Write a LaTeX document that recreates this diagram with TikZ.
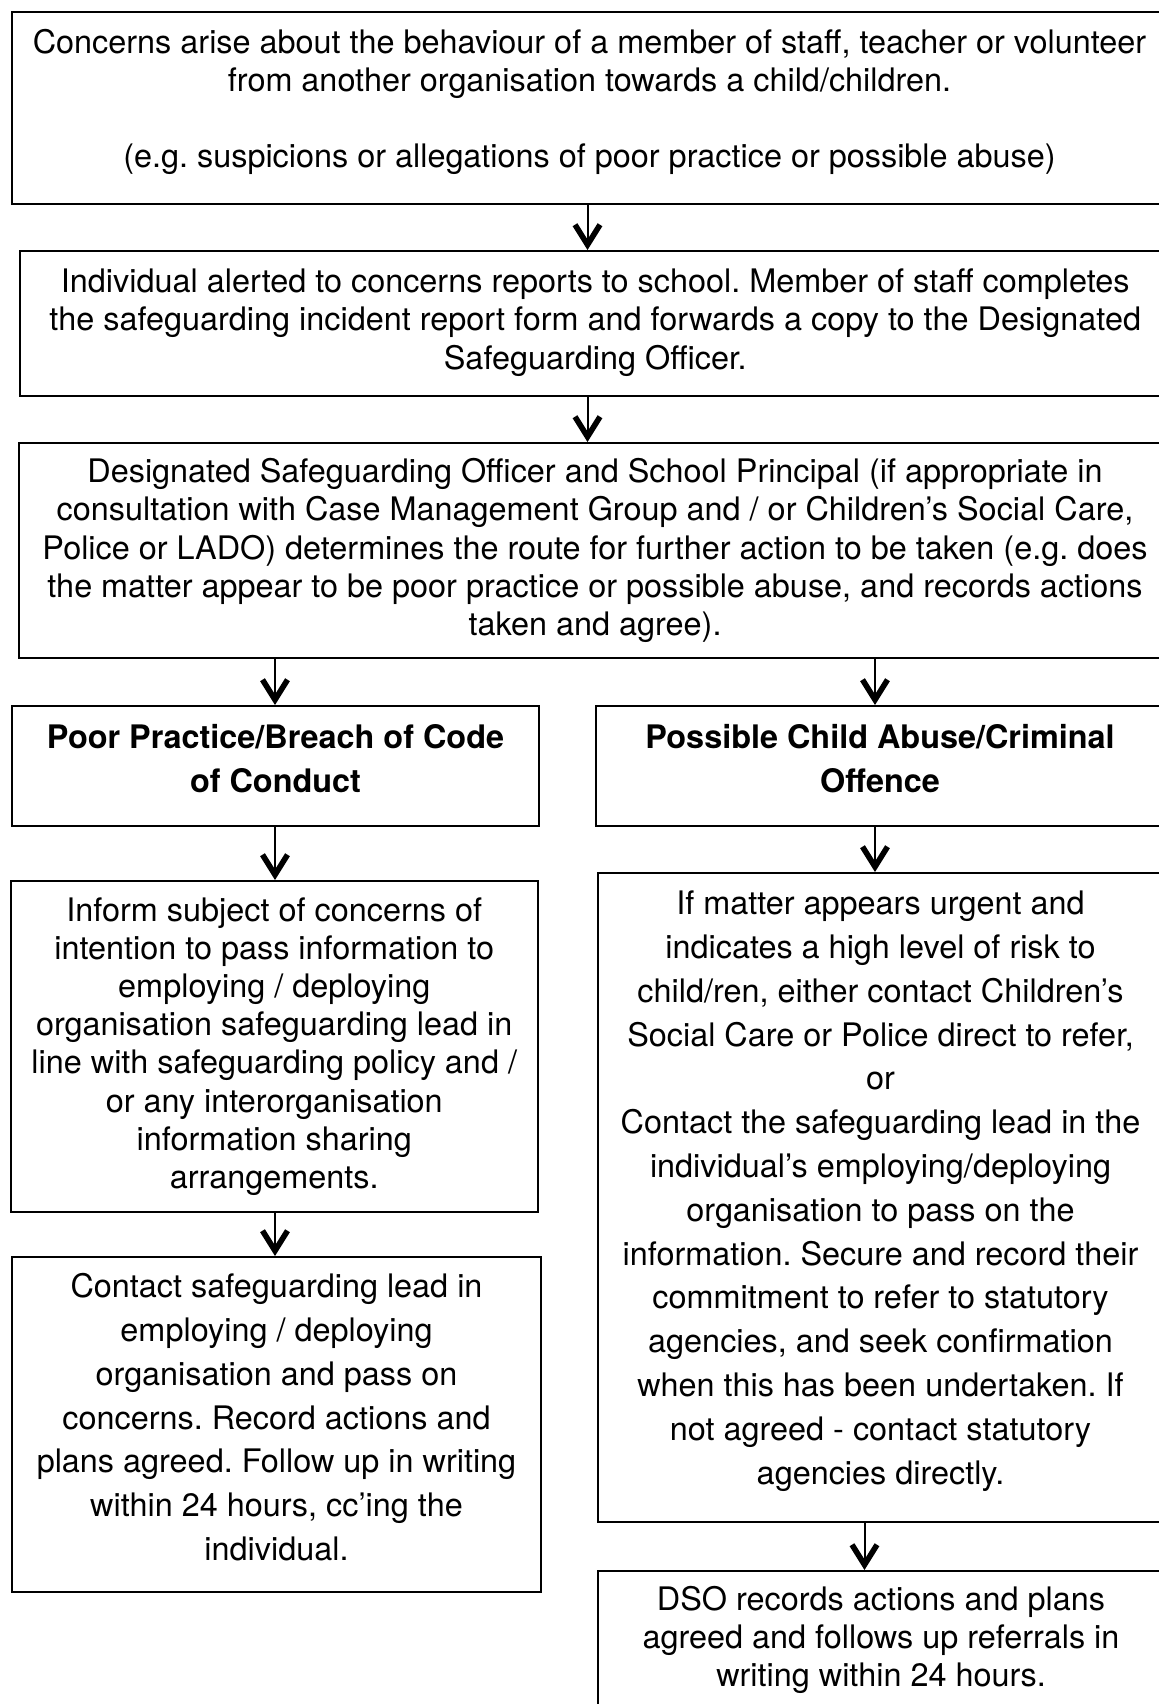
\documentclass[tikz,border=0pt]{standalone}
\usepackage{fontspec}
\setmainfont{TeX Gyre Heros}
\usetikzlibrary{arrows.meta}
\begin{document}
\frenchspacing
\begin{tikzpicture}[x=.5pt,y=-.5pt,line width=1pt,
                    box/.style={draw,line width=1pt,inner sep=0pt,align=center,anchor=north west,font=\fontsize{16.2}{19.1}\selectfont},
                    tall/.style={box,font=\fontsize{16.2}{21.9}\selectfont},
                    head/.style={box,font=\fontsize{16.2}{21.8}\selectfont\bfseries},
                    arr/.style={line width=1pt,-{Straight Barb[length=10pt,width=12.5pt,line width=2.8pt]}}]
                     \useasboundingbox (0,0) rectangle (1159,1704);
                     \node[box, minimum width=577.5pt, minimum height=96pt,   text depth=9.5pt]  (concern) at (11,11)     {Concerns arise about the behaviour of a member of staff, teacher or volunteer\\ from another organisation towards a child/children.\\[19pt] (e.g. suspicions or allegations of poor practice or possible abuse)};
                     \node[box, minimum width=575.75pt,minimum height=72.5pt, text depth=4.5pt]  (report)  at (18.5,250)  {Individual alerted to concerns reports to school. Member of staff completes\\ the safeguarding incident report form and forwards a copy to the Designated\\ Safeguarding Officer.};
                     \node[box, minimum width=576pt,   minimum height=107.5pt]                   (route)   at (18,442)    {Designated Safeguarding Officer and School Principal (if appropriate in\\ consultation with Case Management Group and / or Children’s Social Care,\\ Police or LADO) determines the route for further action to be taken (e.g. does\\ the matter appear to be poor practice or possible abuse, and records actions\\ taken and agree).};
                     \node[head,minimum width=263.5pt, minimum height=60pt,   text depth=7.6pt]  (poor)    at (11,705)    {Poor Practice/Breach of Code\\ of Conduct};
                     \node[head,minimum width=284pt,   minimum height=60pt,   text depth=7.6pt]  (abuse)   at (595,705)   {Possible Child Abuse/Criminal\\ Offence};
                     \node[box, minimum width=263.75pt,minimum height=165.5pt]                   (inform)  at (9.5,880)   {Inform subject of concerns of\\ intention to pass information to\\ employing / deploying\\ organisation safeguarding lead in\\ line with safeguarding policy and /\\ or any interorganisation\\ information sharing\\ arrangements.};
                     \node[tall,minimum width=282.5pt, minimum height=324.5pt,text depth=10pt]   (urgent)  at (597,872)   {If matter appears urgent and\\ indicates a high level of risk to\\ child/ren, either contact Children’s\\ Social Care or Police direct to refer,\\ or\\ Contact the safeguarding lead in the\\ individual’s employing/deploying\\ organisation to pass on the\\ information. Secure and record their\\ commitment to refer to statutory\\ agencies, and seek confirmation\\ when this has been undertaken. If\\ not agreed - contact statutory\\ agencies directly.};
                     \node[tall,minimum width=264.5pt, minimum height=167.5pt,text depth=7.6pt]  (contact) at (11,1256)   {Contact safeguarding lead in\\ employing / deploying\\ organisation and pass on\\ concerns. Record actions and\\ plans agreed. Follow up in writing\\ within 24 hours, cc’ing the\\ individual.};
                     \node[box, minimum width=283pt,   minimum height=72pt,   text depth=6.7pt]  (dso)     at (597,1570)  {DSO records actions and plans\\ agreed and follows up referrals in\\ writing within 24 hours.};
                     \coordinate (mid)   at (587.5,0);
                     \coordinate (lcol)  at (275,0);
                     \coordinate (rcol)  at (875,0);
                     \coordinate (rlow)  at (864.5,0);
                     \draw[arr] (concern.south -| mid)  -- (report.north -| mid);
                     \draw[arr] (report.south -| mid)   -- (route.north -| mid);
                     \draw[arr] (route.south -| lcol)   -- (poor.north -| lcol);
                     \draw[arr] (route.south -| rcol)   -- (abuse.north -| rcol);
                     \draw[arr] (poor.south -| lcol)    -- (inform.north -| lcol);
                     \draw[arr] (abuse.south -| rcol)   -- (urgent.north -| rcol);
                     \draw[arr] (inform.south -| lcol)  -- (contact.north -| lcol);
                     \draw[arr] (urgent.south -| rlow)  -- (dso.north -| rlow);
                 \end{tikzpicture}
\end{document}
